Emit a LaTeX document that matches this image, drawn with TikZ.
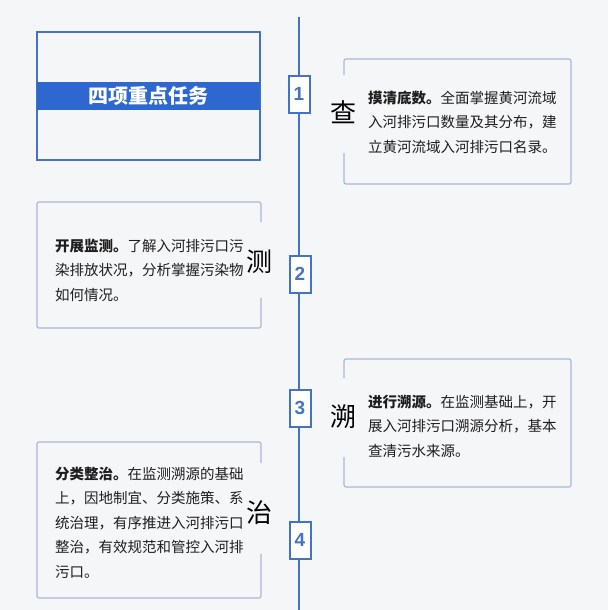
\documentclass[tikz,border=0pt]{standalone}
\usepackage{fontspec}
\setmainfont{Noto Sans CJK SC}
\newfontfamily\numfont{Liberation Sans}
\definecolor{bg}{HTML}{F5F6F8}
\definecolor{lineblue}{HTML}{4472C4}
\definecolor{band}{HTML}{2D67CF}
\definecolor{cardline}{HTML}{AAB7D9}
\definecolor{txt}{HTML}{1E1E1E}
\begin{document}
\begin{tikzpicture}[x=1pt,y=-1pt,
  numbox/.style={draw=lineblue,line width=2pt,fill=white,minimum width=21pt,minimum height=37pt,inner sep=0pt,text=lineblue,font=\numfont\bfseries\fontsize{19}{19}\selectfont},
  cardborder/.style={draw=cardline,line width=1.2pt,rounded corners=2pt},
  body/.style={anchor=north west,inner sep=0pt,align=left,text=txt,font=\fontsize{14.5}{24.5}\selectfont},
  bigchar/.style={inner sep=0pt,text=black,font=\fontsize{26}{26}\selectfont}]
\fill[bg] (0,0) rectangle (608,610);
\useasboundingbox (0,0) rectangle (608,610);
% timeline
\coordinate (top) at (299,17);
\coordinate (bottom) at (299,610);
\draw[lineblue,line width=2pt] (top) -- (bottom);
% title box
\draw[lineblue,line width=1.5pt] (37,32) rectangle (260,160);
\node[fill=band,minimum width=223pt,minimum height=28pt,inner sep=0pt,text=white,font=\bfseries\fontsize{20}{20}\selectfont] (title) at (148.5,96) {四项重点任务};
% number boxes
\node[numbox] (n1) at (299,94) {1};
\node[numbox] (n2) at (300,274) {2};
\node[numbox] (n3) at (300,408) {3};
\node[numbox] (n4) at (300,540) {4};
% card 1
\draw[cardborder] (344,75) -- (344,59) -- (571,59) -- (571,184) -- (344,184) -- (344,153);
\node[bigchar] (c1) at (343,112) {查};
\node[body] (t1) at (368,90.5) {\textbf{摸清底数。}全面掌握黄河流域\\入河排污口数量及其分布，建\\立黄河流域入河排污口名录。};
% card 2
\draw[cardborder] (261,222) -- (261,202) -- (37,202) -- (37,328) -- (261,328) -- (261,298);
\node[bigchar] (c2) at (259,262) {测};
\node[body] (t2) at (55,238.5) {\textbf{开展监测。}了解入河排污口污\\染排放状况，分析掌握污染物\\如何情况。};
% card 3
\draw[cardborder] (344,378) -- (344,359) -- (571,359) -- (571,487) -- (344,487) -- (344,457);
\node[bigchar] (c3) at (343,417) {溯};
\node[body] (t3) at (368,394.5) {\textbf{进行溯源。}在监测基础上，开\\展入河排污口溯源分析，基本\\查清污水来源。};
% card 4
\draw[cardborder] (261,463) -- (261,442) -- (37,442) -- (37,598) -- (261,598) -- (261,554);
\node[bigchar] (c4) at (259,513) {治};
\node[body] (t4) at (55,466.5) {\textbf{分类整治。}在监测溯源的基础\\上，因地制宜、分类施策、系\\统治理，有序推进入河排污口\\整治，有效规范和管控入河排\\污口。};
\end{tikzpicture}
\end{document}
